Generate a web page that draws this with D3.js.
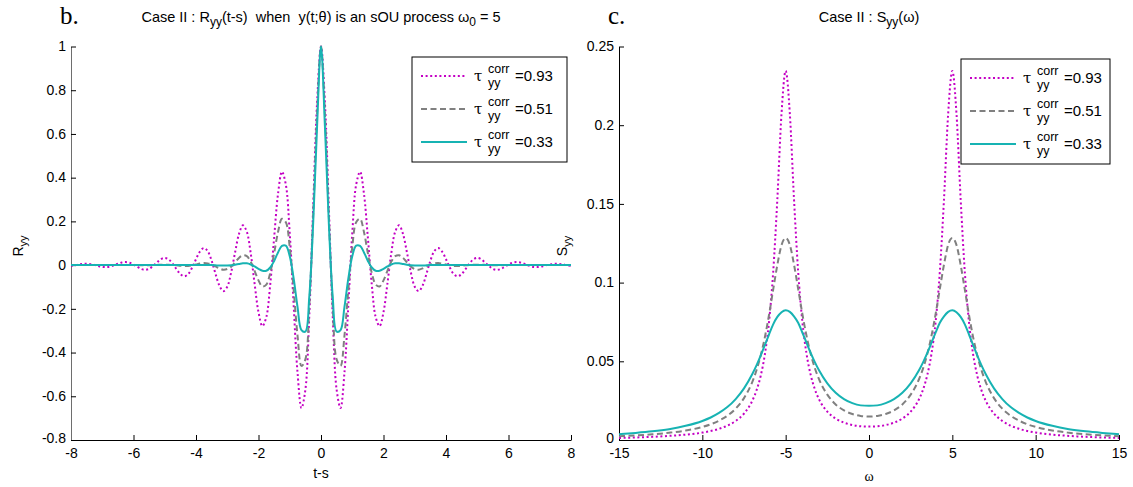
<!DOCTYPE html>
<html><head><meta charset="utf-8">
<script src="https://cdn.jsdelivr.net/npm/d3@7"></script>
<style>
body{margin:0;background:#fff}
svg{display:block}
text{font-family:"Liberation Sans",Arial,Helvetica,sans-serif;fill:#000}
</style>
</head><body>
<svg id="chart" width="1133" height="487"></svg>
<script>
// ---------- DATA ----------
const seriesLabels = ["=0.93", "=0.51", "=0.33"];

// panel b: R_yy(t-s)
const tauValues = [-8,-7.875,-7.75,-7.625,-7.5,-7.375,-7.25,-7.125,-7,-6.875,-6.75,-6.625,-6.5,-6.375,-6.25,-6.125,-6,-5.875,-5.75,-5.625,-5.5,-5.375,-5.25,-5.125,-5,-4.875,-4.75,-4.625,-4.5,-4.375,-4.25,-4.125,-4,-3.875,-3.75,-3.625,-3.5,-3.375,-3.25,-3.125,-3,-2.875,-2.75,-2.625,-2.5,-2.375,-2.25,-2.125,-2,-1.875,-1.75,-1.625,-1.5,-1.375,-1.25,-1.125,-1,-0.875,-0.75,-0.625,-0.5,-0.375,-0.25,-0.125,0,0.125,0.25,0.375,0.5,0.625,0.75,0.875,1,1.125,1.25,1.375,1.5,1.625,1.75,1.875,2,2.125,2.25,2.375,2.5,2.625,2.75,2.875,3,3.125,3.25,3.375,3.5,3.625,3.75,3.875,4,4.125,4.25,4.375,4.5,4.625,4.75,4.875,5,5.125,5.25,5.375,5.5,5.625,5.75,5.875,6,6.125,6.25,6.375,6.5,6.625,6.75,6.875,7,7.125,7.25,7.375,7.5,7.625,7.75,7.875,8];

const R093 = [-0.003,-0.001,0.003,0.005,0.006,0.004,0.001,-0.004,-0.008,-0.009,-0.007,-0.001,0.006,0.012,0.014,0.011,0.003,-0.008,-0.018,-0.022,-0.017,-0.004,0.012,0.027,0.033,0.026,0.007,-0.018,-0.041,-0.051,-0.041,-0.012,0.027,0.062,0.078,0.064,0.020,-0.040,-0.094,-0.119,-0.099,-0.033,0.058,0.142,0.182,0.153,0.055,-0.085,-0.215,-0.279,-0.238,-0.089,0.125,0.326,0.427,0.368,0.144,-0.183,-0.493,-0.654,-0.570,-0.232,0.266,0.745,1.000,0.745,0.266,-0.232,-0.570,-0.654,-0.493,-0.183,0.144,0.368,0.427,0.326,0.125,-0.089,-0.238,-0.279,-0.215,-0.085,0.055,0.153,0.182,0.142,0.058,-0.033,-0.099,-0.119,-0.094,-0.040,0.020,0.064,0.078,0.062,0.027,-0.012,-0.041,-0.051,-0.041,-0.018,0.007,0.026,0.033,0.027,0.012,-0.004,-0.017,-0.022,-0.018,-0.008,0.003,0.011,0.014,0.012,0.006,-0.001,-0.007,-0.009,-0.008,-0.004,0.001,0.004,0.006,0.005,0.003,-0.001,-0.003];

const R051 = [0,0,0,0,0,0,0,0,0,0,0,0,0,0,0,0,0,0,-0.001,-0.001,-0.001,0,0.001,0.002,0.002,0.002,0,-0.001,-0.003,-0.004,-0.004,-0.001,0.003,0.007,0.010,0.008,0.003,-0.006,-0.015,-0.021,-0.018,-0.007,0.013,0.033,0.045,0.041,0.016,-0.026,-0.070,-0.098,-0.089,-0.036,0.054,0.151,0.212,0.196,0.082,-0.112,-0.324,-0.461,-0.431,-0.188,0.231,0.695,1.000,0.695,0.231,-0.188,-0.431,-0.461,-0.324,-0.112,0.082,0.196,0.212,0.151,0.054,-0.036,-0.089,-0.098,-0.070,-0.026,0.016,0.041,0.045,0.033,0.013,-0.007,-0.018,-0.021,-0.015,-0.006,0.003,0.008,0.010,0.007,0.003,-0.001,-0.004,-0.004,-0.003,-0.001,0,0.002,0.002,0.002,0.001,0,-0.001,-0.001,-0.001,0,0,0,0,0,0,0,0,0,0,0,0,0,0,0,0,0,0,0,0];

const R033 = [0,0,0,0,0,0,0,0,0,0,0,0,0,0,0,0,0,0,0,0,0,0,0,0,0,0,0,0,0,0,0,0,0,0,0,0,0,-0.001,-0.002,-0.002,-0.002,-0.001,0.002,0.005,0.008,0.008,0.003,-0.006,-0.017,-0.026,-0.026,-0.011,0.019,0.058,0.088,0.089,0.041,-0.061,-0.192,-0.297,-0.304,-0.145,0.194,0.636,1.000,0.636,0.194,-0.145,-0.304,-0.297,-0.192,-0.061,0.041,0.089,0.088,0.058,0.019,-0.011,-0.026,-0.026,-0.017,-0.006,0.003,0.008,0.008,0.005,0.002,-0.001,-0.002,-0.002,-0.002,-0.001,0,0,0,0,0,0,0,0,0,0,0,0,0,0,0,0,0,0,0,0,0,0,0,0,0,0,0,0,0,0,0,0,0,0,0,0,0,0,0];

// panel c: S_yy(omega)
const omegaValues = [-15,-14,-13,-12,-11,-10,-9.5,-9,-8.5,-8,-7.5,-7,-6.75,-6.5,-6.25,-6,-5.75,-5.5,-5.25,-5,-4.75,-4.5,-4.25,-4,-3.75,-3.5,-3.25,-3,-2.5,-2,-1.5,-1,-0.5,0,0.5,1,1.5,2,2.5,3,3.25,3.5,3.75,4,4.25,4.5,4.75,5,5.25,5.5,5.75,6,6.25,6.5,6.75,7,7.5,8,8.5,9,9.5,10,11,12,13,14,15];

const S093 = [0.0013,0.0016,0.0020,0.0026,0.0034,0.0047,0.0057,0.0071,0.0091,0.0121,0.0168,0.0250,0.0315,0.0407,0.0543,0.0749,0.1065,0.1529,0.2072,0.2345,0.2073,0.1531,0.1069,0.0753,0.0549,0.0414,0.0323,0.0259,0.0180,0.0136,0.0110,0.0095,0.0087,0.0085,0.0087,0.0095,0.0110,0.0136,0.0180,0.0259,0.0323,0.0414,0.0549,0.0753,0.1069,0.1531,0.2073,0.2345,0.2072,0.1529,0.1065,0.0749,0.0543,0.0407,0.0315,0.0250,0.0168,0.0121,0.0091,0.0071,0.0057,0.0047,0.0034,0.0026,0.0020,0.0016,0.0013];

const S051 = [0.0024,0.0029,0.0036,0.0046,0.0060,0.0083,0.0100,0.0123,0.0154,0.0199,0.0266,0.0370,0.0443,0.0536,0.0652,0.0794,0.0955,0.1112,0.1238,0.1283,0.1240,0.1115,0.0960,0.0802,0.0662,0.0548,0.0457,0.0386,0.0288,0.0226,0.0188,0.0165,0.0153,0.0149,0.0153,0.0165,0.0188,0.0226,0.0288,0.0386,0.0457,0.0548,0.0662,0.0802,0.0960,0.1115,0.1240,0.1283,0.1238,0.1112,0.0955,0.0794,0.0652,0.0536,0.0443,0.0370,0.0266,0.0199,0.0154,0.0123,0.0100,0.0083,0.0060,0.0046,0.0036,0.0029,0.0024];

const S033 = [0.0037,0.0045,0.0055,0.0069,0.0090,0.0121,0.0143,0.0172,0.0209,0.0260,0.0328,0.0419,0.0474,0.0536,0.0603,0.0670,0.0735,0.0782,0.0812,0.0824,0.0814,0.0786,0.0745,0.0683,0.0618,0.0554,0.0495,0.0443,0.0360,0.0300,0.0260,0.0234,0.0220,0.0217,0.0220,0.0234,0.0260,0.0300,0.0360,0.0443,0.0495,0.0554,0.0618,0.0683,0.0745,0.0786,0.0814,0.0824,0.0812,0.0782,0.0735,0.0670,0.0603,0.0536,0.0474,0.0419,0.0328,0.0260,0.0209,0.0172,0.0143,0.0121,0.0090,0.0069,0.0055,0.0045,0.0037];

// tick labels
const xTicksB = [-8,-6,-4,-2,0,2,4,6,8];
const yTicksB = [-0.8,-0.6,-0.4,-0.2,0,0.2,0.4,0.6,0.8,1];
const xTicksC = [-15,-10,-5,0,5,10,15];
const yTicksC = [0,0.05,0.1,0.15,0.2,0.25];

// ---------- STYLES ----------
const styles = [
  {color:"#c400c4", dash:"2,2.6", width:2},
  {color:"#808080", dash:"6,3.5", width:2},
  {color:"#17b3b3", dash:null, width:2}
];

const svg = d3.select("#chart");

function drawPanel(opt){
  const g = svg.append("g");
  const x = d3.scaleLinear().domain(opt.xDomain).range(opt.xRange);
  const y = d3.scaleLinear().domain(opt.yDomain).range(opt.yRange);

  // axes
  const xa = g.append("g").attr("transform",`translate(0,${opt.yRange[0]})`)
    .call(d3.axisBottom(x).tickValues(opt.xTicks).tickSize(-5).tickSizeOuter(0).tickPadding(8).tickFormat(d=>String(d)));
  const ya = g.append("g").attr("transform",`translate(${opt.xRange[0]},0)`)
    .call(d3.axisLeft(y).tickValues(opt.yTicks).tickSize(-5).tickSizeOuter(0).tickPadding(5).tickFormat(d=>String(d)));
  [xa,ya].forEach(a=>{
    a.selectAll("text").style("font-size","14px").style("font-family","'Liberation Sans',Arial,sans-serif").attr("fill","#000");
    a.selectAll("line").attr("stroke","#000");
  });
  ya.selectAll(".tick text").attr("dy",(d,i)=> i===0 ? "0.2em" : "0.3em");
  xa.select(".domain").attr("stroke","#000");
  ya.select(".domain").attr("stroke",opt.yAxisColor);

  // lines
  opt.series.forEach((vals,i)=>{
    const st = styles[i];
    const line = d3.line().x((d,j)=>x(opt.xs[j])).y(d=>y(d)).curve(opt.curve);
    const p = g.append("path").datum(vals).attr("d",line)
      .attr("fill","none").attr("stroke",st.color).attr("stroke-width",st.width)
      .attr("stroke-linejoin","round");
    if(st.dash) p.attr("stroke-dasharray",st.dash);
  });

  // legend
  const L = opt.legend;
  const lg = g.append("g").attr("transform",`translate(${L.x},${L.y})`);
  lg.append("rect").attr("x",0).attr("y",0).attr("width",L.w).attr("height",105)
    .attr("fill","#fff").attr("stroke","#000").attr("stroke-width",1);
  seriesLabels.forEach((lab,i)=>{
    const cy = 19 + i*33;
    const st = styles[i];
    const ln = lg.append("line").attr("x1",9).attr("x2",55).attr("y1",cy).attr("y2",cy)
      .attr("stroke",st.color).attr("stroke-width",st.width);
    if(st.dash) ln.attr("stroke-dasharray",st.dash);
    lg.append("text").attr("x",62).attr("y",cy+5).style("font-size","15px")
      .style("font-family","'DejaVu Serif','Liberation Serif',serif").text("τ");
    lg.append("text").attr("x",76).attr("y",cy-3).style("font-size","12.5px").text("corr");
    lg.append("text").attr("x",76).attr("y",cy+11).style("font-size","12.5px").text("yy");
    lg.append("text").attr("x",103).attr("y",cy+5).style("font-size","15px").text(lab);
  });
  return {x,y};
}

const pb = drawPanel({
  xDomain:[-8,8], xRange:[71,571], yDomain:[-0.8,1], yRange:[440,46.5],
  xTicks:xTicksB, yTicks:yTicksB, xs:tauValues, series:[R093,R051,R033],
  curve:d3.curveCatmullRom.alpha(0.5), yAxisColor:"#6e6e6e",
  legend:{x:412, y:57, w:155}
});
const pc = drawPanel({
  xDomain:[-15,15], xRange:[619,1119], yDomain:[0,0.25], yRange:[440,46.5],
  xTicks:xTicksC, yTicks:yTicksC, xs:omegaValues, series:[S093,S051,S033],
  curve:d3.curveMonotoneX, yAxisColor:"#000",
  legend:{x:961, y:59, w:149}
});

// ---------- TEXT ----------
function richText(sel, parts, size){
  parts.forEach(p=>{
    const t = sel.append("tspan").text(p.t);
    if(p.sub){ t.style("font-size",Math.round(size*0.8)+"px").attr("dy",4); }
    else if(p.after){ t.attr("dy",-4); }
  });
}
// panel letters
svg.append("text").attr("x",60).attr("y",24).style("font-family","'Liberation Serif','Times New Roman',serif").style("font-size","25px").text("b.");
svg.append("text").attr("x",608).attr("y",24).style("font-family","'Liberation Serif','Times New Roman',serif").style("font-size","25px").text("c.");

// titles
const tb = svg.append("text").attr("x",321).attr("y",22).attr("text-anchor","middle").style("font-size","14.5px").style("white-space","pre");
richText(tb,[{t:"Case II : R"},{t:"yy",sub:true},{t:"(t-s)  when  y(t;θ) is an sOU process ω",after:true},{t:"0",sub:true},{t:" = 5",after:true}],14.5);
const tc = svg.append("text").attr("x",869).attr("y",22).attr("text-anchor","middle").style("font-size","14.5px").style("white-space","pre");
richText(tc,[{t:"Case II : S"},{t:"yy",sub:true},{t:"(ω)",after:true}],14.5);

// axis labels
svg.append("text").attr("x",321).attr("y",478).attr("text-anchor","middle").style("font-size","14px").text("t-s");
svg.append("text").attr("x",869).attr("y",481).attr("text-anchor","middle").style("font-size","14px")
  .style("font-family","'Liberation Serif','Times New Roman',serif").text("ω");
const ryl = svg.append("text").attr("transform","translate(23,246) rotate(-90)").attr("text-anchor","middle").style("font-size","14px");
richText(ryl,[{t:"R"},{t:"yy",sub:true}],14);
const syl = svg.append("text").attr("transform","translate(567,246) rotate(-90)").attr("text-anchor","middle").style("font-size","14px");
richText(syl,[{t:"S"},{t:"yy",sub:true}],14);
</script>
</body></html>
